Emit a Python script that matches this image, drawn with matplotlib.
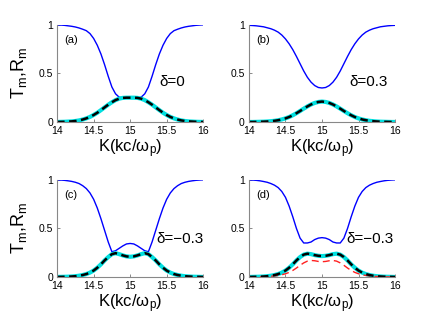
import numpy as np
import matplotlib
matplotlib.use('Agg')
import matplotlib.pyplot as plt

plt.rcParams['font.family'] = ['Liberation Sans', 'DejaVu Sans']
plt.rcParams['mathtext.fontset'] = 'custom'
plt.rcParams['mathtext.rm'] = 'Liberation Sans'
plt.rcParams['mathtext.it'] = 'Liberation Sans'
plt.rcParams['mathtext.default'] = 'regular'

# K grid, 14 -> 16 in steps of 0.05
k = np.linspace(14, 16, 41)

# panel (a), delta = 0
T_a = [1.0, 0.998, 0.995, 0.99, 0.985, 0.978, 0.968, 0.955, 0.94, 0.91, 0.86, 0.79, 0.70, 0.59, 0.47, 0.36, 0.29, 0.255,
       0.25, 0.25, 0.25, 0.25, 0.25, 0.255, 0.29, 0.36, 0.47, 0.59, 0.70, 0.79, 0.86, 0.91, 0.94, 0.955, 0.968, 0.978,
       0.985, 0.99, 0.995, 0.998, 1.0]
R_a = [0.0, 0.001, 0.002, 0.004, 0.006, 0.01, 0.016, 0.025, 0.037, 0.052, 0.072, 0.095, 0.122, 0.15, 0.178, 0.203,
       0.225, 0.24, 0.248, 0.25, 0.25, 0.25, 0.248, 0.24, 0.225, 0.203, 0.178, 0.15, 0.122, 0.095, 0.072, 0.052, 0.037,
       0.025, 0.016, 0.01, 0.006, 0.004, 0.002, 0.001, 0.0]
# panel (b), delta = 0.3
T_b = [0.995, 0.993, 0.99, 0.985, 0.98, 0.97, 0.96, 0.945, 0.925, 0.895, 0.855, 0.805, 0.745, 0.675, 0.60, 0.525, 0.46,
       0.41, 0.375, 0.355, 0.35, 0.355, 0.375, 0.41, 0.46, 0.525, 0.60, 0.675, 0.745, 0.805, 0.855, 0.895, 0.925, 0.945,
       0.96, 0.97, 0.98, 0.985, 0.99, 0.993, 0.995]
R_b = [0.0, 0.0, 0.001, 0.002, 0.003, 0.005, 0.008, 0.012, 0.018, 0.026, 0.037, 0.051, 0.069, 0.09, 0.113, 0.137, 0.16,
       0.18, 0.196, 0.206, 0.21, 0.206, 0.196, 0.18, 0.16, 0.137, 0.113, 0.09, 0.069, 0.051, 0.037, 0.026, 0.018, 0.012,
       0.008, 0.005, 0.003, 0.002, 0.001, 0.0, 0.0]
# panel (c), delta = -0.3
T_c = [1.0, 0.998, 0.995, 0.99, 0.984, 0.975, 0.962, 0.94, 0.91, 0.865, 0.80, 0.71, 0.60, 0.48, 0.36, 0.26, 0.27, 0.295,
       0.32, 0.34, 0.345, 0.34, 0.32, 0.295, 0.27, 0.26, 0.36, 0.48, 0.60, 0.71, 0.80, 0.865, 0.91, 0.94, 0.962, 0.975,
       0.984, 0.99, 0.995, 0.998, 1.0]
R_c = [0.0, 0.001, 0.002, 0.003, 0.005, 0.008, 0.013, 0.02, 0.03, 0.045, 0.066, 0.095, 0.13, 0.17, 0.205, 0.235, 0.245,
       0.235, 0.222, 0.212, 0.208, 0.212, 0.222, 0.235, 0.245, 0.235, 0.205, 0.17, 0.13, 0.095, 0.066, 0.045, 0.03,
       0.02, 0.013, 0.008, 0.005, 0.003, 0.002, 0.001, 0.0]
# panel (d), delta = -0.3
T_d = [1.0, 0.998, 0.995, 0.99, 0.983, 0.975, 0.962, 0.945, 0.92, 0.88, 0.82, 0.73, 0.62, 0.50, 0.40, 0.35, 0.35, 0.36,
       0.385, 0.40, 0.405, 0.40, 0.385, 0.36, 0.35, 0.35, 0.40, 0.50, 0.62, 0.73, 0.82, 0.88, 0.92, 0.945, 0.962, 0.975,
       0.983, 0.99, 0.995, 0.998, 1.0]
R_d = [0.0, 0.001, 0.002, 0.003, 0.005, 0.008, 0.013, 0.02, 0.03, 0.045, 0.066, 0.095, 0.13, 0.17, 0.205, 0.23, 0.24,
       0.235, 0.225, 0.218, 0.215, 0.218, 0.225, 0.235, 0.24, 0.23, 0.205, 0.17, 0.13, 0.095, 0.066, 0.045, 0.03, 0.02,
       0.013, 0.008, 0.005, 0.003, 0.002, 0.001, 0.0]
red_d = [0.0, 0.0, 0.001, 0.002, 0.003, 0.005, 0.007, 0.011, 0.016, 0.023, 0.033, 0.047, 0.067, 0.092, 0.12, 0.145,
         0.163, 0.17, 0.167, 0.16, 0.157, 0.16, 0.167, 0.17, 0.163, 0.145, 0.12, 0.092, 0.067, 0.047, 0.033, 0.023,
         0.016, 0.011, 0.007, 0.005, 0.003, 0.002, 0.001, 0.0, 0.0]

panel_tags = ['(a)', '(b)', '(c)', '(d)']
delta_labels = ['δ=0', 'δ=0.3', 'δ=−0.3', 'δ=−0.3']
xticks = [14, 14.5, 15, 15.5, 16]
yticks = [0, 0.5, 1]

fig = plt.figure(figsize=(4.36, 3.27), dpi=100)
# axes boxes in figure fractions
boxes = [[0.131, 0.627, 0.335, 0.297],
         [0.571, 0.627, 0.335, 0.297],
         [0.131, 0.153, 0.335, 0.297],
         [0.571, 0.153, 0.335, 0.297]]
T_all = [T_a, T_b, T_c, T_d]
R_all = [R_a, R_b, R_c, R_d]
delta_pos = [(15.4, 0.41), (15.38, 0.41), (15.36, 0.39), (15.34, 0.39)]

for i in range(4):
    ax = fig.add_axes(boxes[i])
    ax.plot(k, T_all[i], color='#0000ff', lw=1.0)
    ax.plot(k, R_all[i], color='#00e0e0', lw=3.0, solid_capstyle='butt')
    if i == 3:
        ax.plot(k, red_d, color='#ff2020', lw=1.0, dashes=(5, 3))
    ax.plot(k, R_all[i], color='black', lw=1.8, dashes=(3, 1.8))
    ax.set_xlim(14, 16)
    ax.set_ylim(0, 1)
    ax.set_xticks(xticks)
    ax.set_xticklabels(['14', '14.5', '15', '15.5', '16'])
    ax.set_yticks(yticks)
    ax.set_yticklabels(['0', '0.5', '1'])
    ax.tick_params(direction='in', length=2, width=0.6, labelsize=7.5, pad=3, colors='#777777',
                   labelcolor='black')
    ax.spines['top'].set_visible(False)
    ax.spines['right'].set_visible(False)
    ax.spines['left'].set_color('#888888')
    ax.spines['bottom'].set_color('#888888')
    ax.set_xlabel('K(kc/$\\omega_p$)', fontsize=12, labelpad=1)
    if i % 2 == 0:
        ax.set_ylabel('$T_m$,$R_m$', fontsize=13)
        ax.yaxis.set_label_coords(-0.19, 0.5)
    ax.text(14.1, 0.84, panel_tags[i], fontsize=8, va='center')
    ax.text(delta_pos[i][0], delta_pos[i][1], delta_labels[i], fontsize=11, va='center')

fig.savefig('out.png', dpi=100)
